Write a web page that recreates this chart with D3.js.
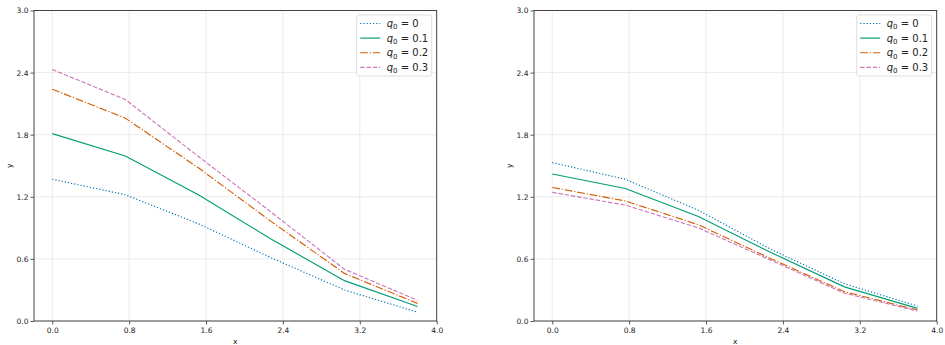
<!DOCTYPE html>
<html>
<head>
<meta charset="utf-8">
<script src="https://cdn.jsdelivr.net/npm/d3@7"></script>
<style>
  html, body { margin: 0; padding: 0; background: #fff; }
  svg { display: block; font-family: "DejaVu Sans", sans-serif; }
</style>
</head>
<body>
<svg id="chart" width="945" height="345"></svg>
<script>
// ---- data ----
const xValues = [0, 0.76, 1.52, 2.28, 3.04, 3.8];
const seriesLabels = ["0", "0.1", "0.2", "0.3"];
const xTicks = [0.0, 0.8, 1.6, 2.4, 3.2, 4.0];
const yTicks = [0.0, 0.6, 1.2, 1.8, 2.4, 3.0];

// left panel
const leftQ0   = [1.37, 1.22, 0.94, 0.61, 0.30, 0.085];
const leftQ01  = [1.81, 1.595, 1.22, 0.79, 0.39, 0.14];
const leftQ02  = [2.24, 1.96, 1.48, 0.96, 0.46, 0.17];
const leftQ03  = [2.43, 2.14, 1.59, 1.05, 0.50, 0.20];
// right panel
const rightQ0  = [1.53, 1.37, 1.07, 0.69, 0.36, 0.145];
const rightQ01 = [1.42, 1.28, 1.01, 0.66, 0.33, 0.122];
const rightQ02 = [1.29, 1.16, 0.93, 0.60, 0.283, 0.106];
const rightQ03 = [1.243, 1.12, 0.90, 0.585, 0.268, 0.097];

const colors = ["#0173b2", "#029e73", "#d55e00", "#cc78bc"];
const dashes = ["1.2,2", null, "7.7,1.9,1.2,1.9", "4.4,1.9"];

const svg = d3.select("#chart");

function panel(left, right, series) {
  const top = 10.5, bottom = 321;
  const x = d3.scaleLinear().domain([-0.19, 4.0]).range([left, right]);
  const y = d3.scaleLinear().domain([0, 3.0]).range([bottom, top]);
  const g = svg.append("g");

  // grid
  g.append("g").selectAll("line").data(xTicks).join("line")
    .attr("x1", d => x(d)).attr("x2", d => x(d))
    .attr("y1", top).attr("y2", bottom)
    .attr("stroke", "#e6e6e6").attr("stroke-width", 0.8);
  g.append("g").selectAll("line").data(yTicks).join("line")
    .attr("x1", left).attr("x2", right)
    .attr("y1", d => y(d)).attr("y2", d => y(d))
    .attr("stroke", "#e6e6e6").attr("stroke-width", 0.8);

  // axes
  const xAxis = d3.axisBottom(x).tickValues(xTicks).tickFormat(d3.format(".1f")).tickSizeOuter(0).tickSize(3.5).tickPadding(3);
  const yAxis = d3.axisLeft(y).tickValues(yTicks).tickFormat(d3.format(".1f")).tickSizeOuter(0).tickSize(3.5).tickPadding(2);
  const gx = g.append("g").attr("transform", `translate(0,${bottom})`).call(xAxis);
  const gy = g.append("g").attr("transform", `translate(${left},0)`).call(yAxis);
  [gx, gy].forEach(a => {
    a.select(".domain").remove();
    a.selectAll("line").attr("stroke", "#333").attr("stroke-width", 0.8);
    a.selectAll("text").attr("fill", "#222").style("font-size", "7.5px").style("font-family", "DejaVu Sans");
  });

  // lines
  const line = d3.line().x((d, i) => x(xValues[i])).y(d => y(d));
  series.forEach((s, k) => {
    g.append("path").datum(s)
      .attr("fill", "none")
      .attr("stroke", colors[k])
      .attr("stroke-width", 1.15)
      .attr("stroke-dasharray", dashes[k])
      .attr("d", line);
  });

  // frame
  g.append("rect").attr("x", left).attr("y", top)
    .attr("width", right - left).attr("height", bottom - top)
    .attr("fill", "none").attr("stroke", "#333").attr("stroke-width", 0.9);

  // axis labels
  g.append("text").attr("x", (left + right) / 2).attr("y", 344)
    .attr("text-anchor", "middle").style("font-size", "7.5px").attr("fill", "#222").text("x");
  g.append("text").attr("transform", `translate(${left - 22},${(top + bottom) / 2}) rotate(-90)`)
    .attr("text-anchor", "middle").style("font-size", "7.5px").attr("fill", "#222").text("y");

  // legend
  const lx = right - 80, ly = 15;
  const lg = g.append("g").attr("transform", `translate(${lx},${ly})`);
  lg.append("rect").attr("width", 75).attr("height", 61).attr("rx", 2)
    .attr("fill", "#fff").attr("fill-opacity", 0.85)
    .attr("stroke", "#d6d6d6").attr("stroke-width", 0.8);
  seriesLabels.forEach((lab, k) => {
    const yy = 8.5 + k * 14.6;
    lg.append("line").attr("x1", 3.5).attr("x2", 23.5).attr("y1", yy).attr("y2", yy)
      .attr("stroke", colors[k]).attr("stroke-width", 1.15)
      .attr("stroke-dasharray", dashes[k]);
    const t = lg.append("text").attr("x", 30).attr("y", yy + 3.6)
      .style("font-size", "10px").attr("fill", "#222");
    t.append("tspan").style("font-style", "italic").text("q");
    t.append("tspan").attr("dy", 2.2).style("font-size", "7px").text("0");
    t.append("tspan").attr("dy", -2.2).text(" = " + lab);
  });
}

panel(34, 436.7, [leftQ0, leftQ01, leftQ02, leftQ03]);
panel(534, 936.7, [rightQ0, rightQ01, rightQ02, rightQ03]);
</script>
</body>
</html>
